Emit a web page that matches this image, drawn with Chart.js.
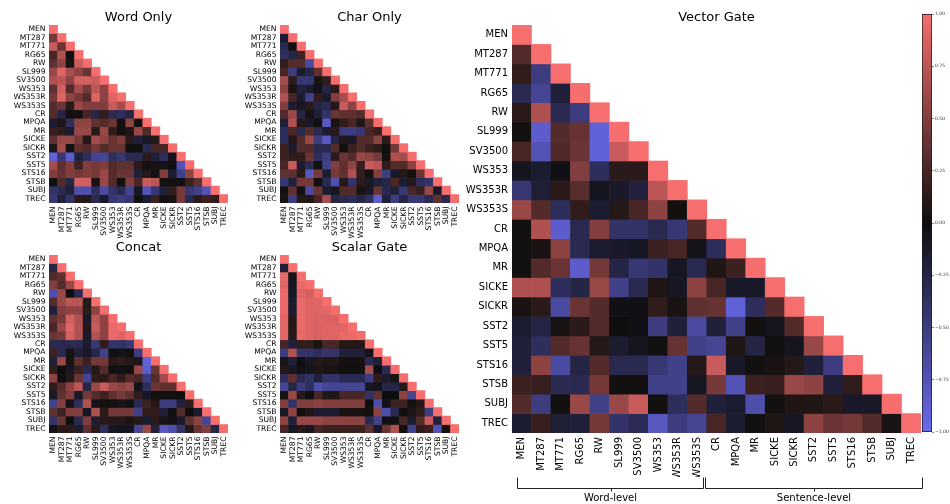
<!DOCTYPE html>
<html><head><meta charset="utf-8">
<script src="https://cdn.jsdelivr.net/npm/chart.js@4.4.1/dist/chart.umd.min.js"></script>
<style>
html,body{margin:0;padding:0;background:#fff;}
#wrap{position:relative;width:950px;height:504px;overflow:hidden;background:#fff;}
canvas{position:absolute;left:0;top:0;}
</style></head><body>
<div id="wrap">
<canvas id="cWord" width="950" height="504"></canvas>
<canvas id="cChar" width="950" height="504"></canvas>
<canvas id="cConcat" width="950" height="504"></canvas>
<canvas id="cScalar" width="950" height="504"></canvas>
<canvas id="cVector" width="950" height="504"></canvas>
<canvas id="cBar" width="950" height="504"></canvas>
</div>
<script>
// ---------- data ----------
const labels = ['MEN','MT287','MT771','RG65','RW','SL999','SV3500','WS353','WS353R','WS353S',
  'CR','MPQA','MR','SICKE','SICKR','SST2','SST5','STS16','STSB','SUBJ','TREC'];

const titles = ['Word Only','Char Only','Concat','Scalar Gate','Vector Gate'];

const wordOnly = [
 [1],
 [0.45,1],
 [0.80,0.40,1],
 [0.25,0.70,0.02,1],
 [0.35,0.55,0.05,0.80,1],
 [0.60,0.90,0.65,0.55,0.40,1],
 [0.70,0.75,0.55,0.85,0.85,0.80,1],
 [0.35,0.85,0.30,0.65,0.45,0.75,0.55,1],
 [0.45,0.90,0.55,0.45,0.30,0.90,0.55,0.90,1],
 [0.30,0.40,0.12,0.60,0.50,0.50,0.50,0.80,0.65,1],
 [0.30,-0.25,0.02,0.02,0.25,-0.25,0.15,-0.30,-0.35,-0.25,1],
 [-0.15,0.08,-0.35,0.55,0.55,0.35,0.30,0.40,0.02,0.55,0.03,1],
 [0.18,0.15,-0.15,0.60,0.60,0.12,0.60,0.15,0.03,0.08,0.60,0.30,1],
 [0.35,0.60,0.60,0.45,0.10,0.65,0.55,0.40,0.50,0.12,-0.20,-0.12,0.10,1],
 [0.08,0.65,0.02,0.35,0.30,0.45,0.30,0.40,0.40,0.02,0.02,-0.30,0.25,0.25,1],
 [-0.90,-0.45,-0.85,-0.20,-0.35,-0.60,-0.60,-0.35,-0.45,-0.30,-0.30,0.12,-0.20,-0.35,-0.05,1],
 [0.65,0.35,0.50,0.20,0.50,0.45,0.50,0.30,0.35,0.35,0.12,0.02,0.05,-0.05,-0.02,-0.75,1],
 [0.50,0.38,0.50,0.45,0.50,0.45,0.60,0.30,0.40,0.40,-0.20,0.10,0.02,0.50,-0.15,-0.55,0.55,1],
 [0.02,0.30,-0.25,0.85,0.85,0.05,0.60,0.30,0.02,0.50,0.25,0.80,0.75,0.03,0.03,-0.03,0.20,0.35,1],
 [-0.40,-0.30,-0.20,-0.70,-0.70,-0.35,-0.65,-0.40,-0.30,-0.60,-0.10,-0.75,-0.45,-0.20,0.15,0.45,-0.45,-0.55,-0.75,1],
 [-0.45,-0.20,-0.40,0.12,0.10,-0.30,-0.12,-0.45,-0.50,-0.45,0.02,-0.15,0.20,0.02,0.05,0.45,-0.30,0.12,0.20,0.15,1]
];

const charOnly = [
 [1],
 [-0.15,1],
 [-0.30,0.02,1],
 [-0.35,-0.25,0.20,1],
 [0.15,0.30,0.30,-0.65,1],
 [0.25,-0.50,-0.15,-0.25,0.35,1],
 [0.65,0.12,-0.45,-0.45,0.05,0.15,1],
 [0.55,0.05,-0.20,-0.15,-0.05,-0.25,0.12,1],
 [0.70,0.25,-0.15,-0.55,0.15,-0.12,0.50,0.65,1],
 [0.50,-0.15,-0.10,0.12,-0.25,-0.30,0.10,0.80,0.55,1],
 [0.30,0.60,-0.25,0.05,-0.20,-0.40,0.40,0.35,0.35,0.30,1],
 [-0.20,0.70,0.10,-0.12,0.02,-0.80,0.05,0.15,0.25,0.08,0.35,1],
 [-0.35,0.25,-0.30,0.30,-0.30,-0.15,0.12,-0.50,-0.50,-0.45,0.25,0.18,1],
 [-0.35,0.10,0.30,0.60,-0.50,-0.80,-0.25,0.10,-0.12,0.30,0.30,0.55,0.12,1],
 [0.20,-0.15,0.30,0.30,-0.30,-0.30,0.30,0.02,0.20,0.30,0.20,0.15,0.02,0.45,1],
 [0.20,0.15,0.15,0.40,-0.35,-0.50,0.12,0.40,0.30,0.60,0.55,0.45,0.02,0.70,0.65,1],
 [0.25,0.80,-0.15,-0.30,0.02,-0.55,0.50,0.35,0.55,0.18,0.80,0.75,0.15,0.30,0.30,0.55,1],
 [0.35,0.35,0.12,-0.80,0.45,-0.15,0.45,0.35,0.70,0.15,0.02,0.50,-0.50,-0.12,0.10,0.02,0.40,1],
 [-0.45,-0.20,0.45,0.45,0.02,-0.30,-0.70,0.10,-0.40,0.12,-0.12,-0.20,-0.25,0.25,-0.15,0.10,-0.35,-0.40,1],
 [0.02,0.35,0.02,-0.65,0.40,-0.15,-0.08,0.30,0.30,0.05,-0.12,0.40,-0.30,-0.20,-0.45,0.25,0.18,0.60,-0.12,1],
 [0.05,-0.50,0.10,0.08,0.25,0.65,-0.25,-0.30,-0.35,-0.25,-0.35,-0.85,-0.20,-0.50,-0.25,-0.45,-0.45,-0.30,0.35,-0.30,1]
];

const concat = [
 [1],
 [-0.25,1],
 [0.30,0.35,1],
 [0.50,0.30,0.60,1],
 [-0.70,0.60,0.00,-0.30,1],
 [0.30,0.60,0.75,0.75,0.10,1],
 [-0.20,0.50,0.55,0.55,0.12,0.55,1],
 [0.35,0.45,0.85,0.70,-0.12,0.75,0.55,1],
 [0.25,0.60,0.90,0.70,0.10,0.80,0.55,0.95,1],
 [0.40,0.45,0.85,0.70,-0.12,0.70,0.55,0.95,0.90,1],
 [-0.30,-0.30,-0.30,-0.30,-0.15,-0.45,0.15,-0.40,-0.40,-0.45,1],
 [0.20,-0.30,0.05,-0.20,-0.12,-0.25,-0.55,0.02,-0.05,0.02,-0.50,1],
 [-0.20,0.60,0.05,0.35,0.20,0.45,0.45,0.10,0.15,0.10,0.08,-0.90,1],
 [0.15,0.00,-0.10,0.20,-0.30,0.10,0.30,0.02,-0.03,0.02,0.60,-0.85,0.40,1],
 [0.55,-0.02,0.10,0.40,-0.60,0.15,0.12,0.25,0.15,0.30,0.25,-0.50,0.30,0.65,1],
 [0.15,0.30,0.55,0.75,-0.25,0.60,0.80,0.60,0.55,0.60,-0.05,-0.35,0.40,0.35,0.35,1],
 [-0.12,0.35,0.50,-0.12,0.45,0.30,0.20,0.35,0.45,0.35,0.15,-0.10,0.02,0.02,0.02,0.00,1],
 [-0.55,0.50,-0.05,-0.35,0.70,-0.05,0.02,0.02,0.05,-0.03,-0.30,0.20,0.10,-0.50,-0.50,-0.20,0.15,1],
 [0.35,0.20,0.50,0.50,-0.10,0.70,0.12,0.45,0.45,0.45,-0.55,0.15,0.15,-0.20,-0.02,0.30,0.00,-0.15,1],
 [-0.40,0.40,-0.02,-0.30,0.50,-0.15,0.10,0.10,0.10,0.05,0.10,-0.15,0.12,0.05,0.03,-0.12,0.35,0.55,-0.60,1],
 [-0.05,0.12,0.12,-0.15,0.35,0.12,-0.35,-0.10,-0.05,-0.08,-0.60,0.60,-0.20,-0.80,-0.70,-0.40,0.10,0.40,0.50,-0.25,1]
];

const scalarGate = [
 [1],
 [-0.20,1],
 [0.95,-0.05,1],
 [0.90,-0.10,0.95,1],
 [0.95,-0.10,0.90,0.85,1],
 [0.95,-0.15,0.95,0.90,0.90,1],
 [0.95,-0.15,0.95,0.90,0.90,0.92,1],
 [0.92,0.10,0.95,0.90,0.88,0.88,0.88,1],
 [0.92,0.10,0.95,0.90,0.88,0.90,0.90,0.92,1],
 [0.92,0.10,0.95,0.90,0.88,0.90,0.90,0.95,0.95,1],
 [0.25,-0.20,0.15,0.15,0.05,0.25,0.25,0.10,0.10,0.10,1],
 [-0.50,0.70,-0.40,-0.40,-0.35,-0.40,-0.40,-0.20,-0.20,-0.20,-0.05,1],
 [0.05,-0.20,0.00,-0.10,0.10,0.08,0.08,0.03,0.03,0.03,-0.30,-0.20,1],
 [0.10,-0.10,0.03,-0.08,0.08,0.05,0.05,0.02,0.02,0.02,0.65,0.00,-0.30,1],
 [-0.35,0.35,-0.30,-0.40,-0.20,-0.40,-0.40,-0.30,-0.30,-0.30,-0.50,0.15,-0.15,0.05,1],
 [-0.60,-0.25,-0.50,-0.35,-0.70,-0.60,-0.60,-0.60,-0.60,-0.60,-0.10,-0.05,-0.25,-0.25,0.10,1],
 [0.05,0.60,0.10,0.00,0.25,0.08,0.08,0.25,0.25,0.25,-0.40,0.35,0.00,0.00,0.55,-0.60,1],
 [0.50,-0.40,0.50,0.50,0.55,0.50,0.50,0.50,0.50,0.50,0.00,-0.70,-0.05,0.20,0.20,0.02,0.10,1],
 [-0.12,0.55,0.02,0.08,-0.15,-0.15,-0.15,0.05,0.05,0.05,0.02,0.55,-0.70,-0.30,0.02,0.08,0.15,-0.50,1],
 [0.55,-0.20,0.60,0.60,0.60,0.55,0.55,0.55,0.55,0.55,-0.30,-0.55,0.02,0.02,0.25,-0.15,0.30,0.80,-0.20,1],
 [0.25,-0.10,0.12,-0.10,0.25,0.20,0.20,0.20,0.20,0.20,0.35,-0.12,0.40,0.70,0.02,-0.55,0.15,0.20,-0.75,0.02,1]
];

const vectorGate = [
 [1],
 [0.30,1],
 [0.15,-0.50,1],
 [-0.30,-0.60,-0.20,1],
 [0.12,0.70,-0.30,-0.50,1],
 [0.02,-0.85,0.30,0.38,-0.90,1],
 [0.25,-0.75,0.28,0.40,-0.90,0.80,1],
 [-0.08,-0.15,-0.03,0.50,-0.35,0.12,0.12,1],
 [-0.45,-0.18,0.12,0.32,-0.08,-0.12,-0.22,0.75,1],
 [0.60,0.30,-0.35,0.15,-0.15,0.10,0.25,0.55,0.02,1],
 [0.02,0.70,-0.85,-0.30,0.50,-0.40,-0.40,-0.30,-0.45,0.30,1],
 [0.02,0.05,0.55,-0.30,-0.15,-0.12,-0.10,0.20,0.25,-0.05,-0.35,1],
 [0.02,0.30,0.40,-0.85,0.45,-0.25,-0.45,-0.40,-0.10,-0.30,0.08,0.20,1],
 [0.70,0.70,-0.35,-0.25,0.60,-0.55,-0.30,0.08,-0.10,0.55,0.25,-0.12,-0.12,1],
 [0.05,0.12,-0.65,0.40,0.30,-0.03,-0.03,0.15,0.05,0.35,0.38,-0.90,-0.35,0.30,1],
 [-0.15,-0.25,0.05,0.12,0.30,0.00,-0.03,-0.50,-0.20,-0.65,-0.20,-0.55,0.02,-0.08,0.30,1],
 [-0.20,-0.35,0.30,0.38,0.10,-0.15,-0.08,0.02,0.38,-0.55,-0.60,0.08,-0.25,0.02,-0.08,0.60,1],
 [-0.20,0.55,-0.65,-0.25,0.30,-0.30,-0.30,-0.45,-0.55,0.10,0.80,-0.12,0.02,0.05,0.10,-0.20,-0.50,1],
 [0.20,0.18,-0.30,-0.30,0.45,0.02,0.02,-0.55,-0.55,-0.10,0.45,-0.75,0.20,0.18,0.60,0.55,-0.20,0.15,1],
 [0.30,-0.50,0.02,0.60,-0.55,0.60,0.80,0.02,-0.35,0.30,-0.20,-0.15,-0.70,0.02,0.08,0.08,0.12,-0.12,-0.12,1],
 [-0.15,0.18,-0.18,-0.20,0.45,-0.40,-0.32,-0.80,-0.50,-0.60,0.25,-0.15,0.02,0.08,-0.10,0.55,0.40,0.45,0.30,0.05,1]
];

const colorbarTicks = [1, 0.75, 0.5, 0.25, 0, -0.25, -0.5, -0.75, -1];
const groupNames = ['Word-level', 'Sentence-level'];
const groupFirst = ['MEN', 'CR'];
const groupLast = ['WS353S', 'TREC'];

// ---------- styling ----------
const FONT = '"DejaVu Sans", "Liberation Sans", sans-serif';
const POS = [246, 110, 110], ZERO = [14, 14, 14], NEG = [106, 106, 238];
function cmap(v) {
  const t = Math.max(-1, Math.min(1, v));
  const end = t >= 0 ? POS : NEG, a = Math.abs(t);
  const c = ZERO.map((z, k) => Math.round(z + (end[k] - z) * a));
  return `rgb(${c[0]},${c[1]},${c[2]})`;
}

const bracketPlugin = {
  id: 'brackets',
  afterDraw(chart) {
    if (!chart.options.plugins.brackets || !chart.options.plugins.brackets.on) return;
    const xs = chart.scales.x, c = chart.ctx;
    const top = Math.round(xs.bottom) + 0.5, lineY = top + 11;
    const insetL = [0.25, -0.07], insetR = [0.17, -0.07];
    c.save();
    c.strokeStyle = '#222'; c.lineWidth = 1;
    c.fillStyle = '#000'; c.font = '10px ' + FONT;
    c.textAlign = 'center'; c.textBaseline = 'middle';
    groupNames.forEach((name, g) => {
      const a = Math.round(xs.getPixelForValue(labels.indexOf(groupFirst[g]) - 0.5 + insetL[g])) + 0.5;
      const b = Math.round(xs.getPixelForValue(labels.indexOf(groupLast[g]) + 0.5 - insetR[g])) + 0.5;
      const m = Math.round((a + b) / 2) + 0.5;
      c.beginPath();
      c.moveTo(a, top); c.lineTo(a, lineY); c.lineTo(b, lineY); c.lineTo(b, top);
      c.moveTo(m, lineY); c.lineTo(m, lineY + 3);
      c.stroke();
      c.fillText(name, (a + b) / 2, lineY + 9.5);
    });
    c.restore();
  }
};

function heatmap(id, title, matrix, area, opt) {
  const n = labels.length;
  const datasets = matrix.map((row, j) => ({
    data: labels.map((_, i) => (i <= j ? [j - 0.5, j + 0.5] : null)),
    backgroundColor: labels.map((_, i) => (i <= j ? cmap(row[i]) : 'rgba(0,0,0,0)')),
    borderWidth: 0,
    grouped: false,
    barPercentage: 1,
    categoryPercentage: 1
  }));
  const titleH = 13, titleGap = 0.5;
  return new Chart(document.getElementById(id), {
    type: 'bar',
    data: { labels, datasets },
    plugins: [bracketPlugin],
    options: {
      responsive: false, animation: false, devicePixelRatio: 1, events: [],
      layout: { padding: { left: area.l - opt.yw, right: 950 - area.r, top: area.t - titleH - titleGap, bottom: 504 - area.b - opt.xh } },
      plugins: {
        legend: { display: false }, tooltip: { enabled: false },
        brackets: { on: !!opt.brackets },
        title: { display: true, text: title, fullSize: false, color: '#000',
          font: { family: FONT, size: 13, weight: 'normal', lineHeight: 1 },
          padding: { top: 0, bottom: titleGap } }
      },
      scales: {
        x: {
          type: 'category', offset: true,
          grid: { display: false, drawTicks: false }, border: { display: false },
          ticks: { autoSkip: false, maxRotation: 90, minRotation: 90, padding: opt.pad, color: '#000',
            font: { family: FONT, size: opt.fs } },
          afterFit: s => { s.height = opt.xh; }
        },
        y: {
          type: 'linear', reverse: true, min: -0.5, max: n - 0.5,
          grid: { display: false, drawTicks: false }, border: { display: false },
          afterBuildTicks: s => { s.ticks = labels.map((_, i) => ({ value: i })); },
          ticks: { autoSkip: false, padding: opt.pad, color: '#000', font: { family: FONT, size: opt.fs },
            callback: v => labels[v] },
          afterFit: s => { s.width = opt.yw; }
        }
      }
    }
  });
}

const small = { yw: 49, xh: 44, fs: 7.6, pad: 3.5 };
heatmap('cWord', titles[0], wordOnly, { l: 49, t: 25, r: 228, b: 203 }, small);
heatmap('cChar', titles[1], charOnly, { l: 280, t: 25, r: 459, b: 203 }, small);
heatmap('cConcat', titles[2], concat, { l: 49, t: 255, r: 228, b: 433 }, small);
heatmap('cScalar', titles[3], scalarGate, { l: 280, t: 255, r: 459, b: 433 }, small);
heatmap('cVector', titles[4], vectorGate, { l: 512, t: 25, r: 921, b: 433 }, { yw: 60, xh: 44, fs: 10, pad: 4, brackets: true });

// ---------- colorbar ----------
function fmtTick(v) { const s = Math.abs(v).toFixed(2); return v < 0 ? '\u2212' + s : s; }
new Chart(document.getElementById('cBar'), {
  type: 'bar',
  data: { labels: [''], datasets: [{
    data: [[-1, 1]],
    backgroundColor: ctx => {
      const area = ctx.chart.chartArea;
      if (!area) return '#000';
      const g = ctx.chart.ctx.createLinearGradient(0, area.top, 0, area.bottom);
      for (let k = 0; k <= 40; k++) g.addColorStop(k / 40, cmap(1 - k / 20));
      return g;
    },
    borderColor: '#1a1a1a', borderWidth: 1, borderSkipped: false,
    barPercentage: 1, categoryPercentage: 1
  }] },
  options: {
    responsive: false, animation: false, devicePixelRatio: 1, events: [],
    layout: { padding: { left: 922, right: 0, top: 14, bottom: 72 } },
    plugins: { legend: { display: false }, tooltip: { enabled: false }, title: { display: false } },
    scales: {
      x: { display: false },
      y: {
        position: 'right', min: -1, max: 1,
        afterBuildTicks: s => { s.ticks = colorbarTicks.map(v => ({ value: v })); },
        grid: { display: true, drawOnChartArea: false, drawTicks: true, tickLength: 2, color: '#333', lineWidth: 0.6 },
        border: { display: false },
        ticks: { padding: 1, color: '#333', font: { family: FONT, size: 4.5 }, callback: v => fmtTick(v) },
        afterFit: s => { s.width = 18; }
      }
    }
  }
});
</script>
</body></html>
